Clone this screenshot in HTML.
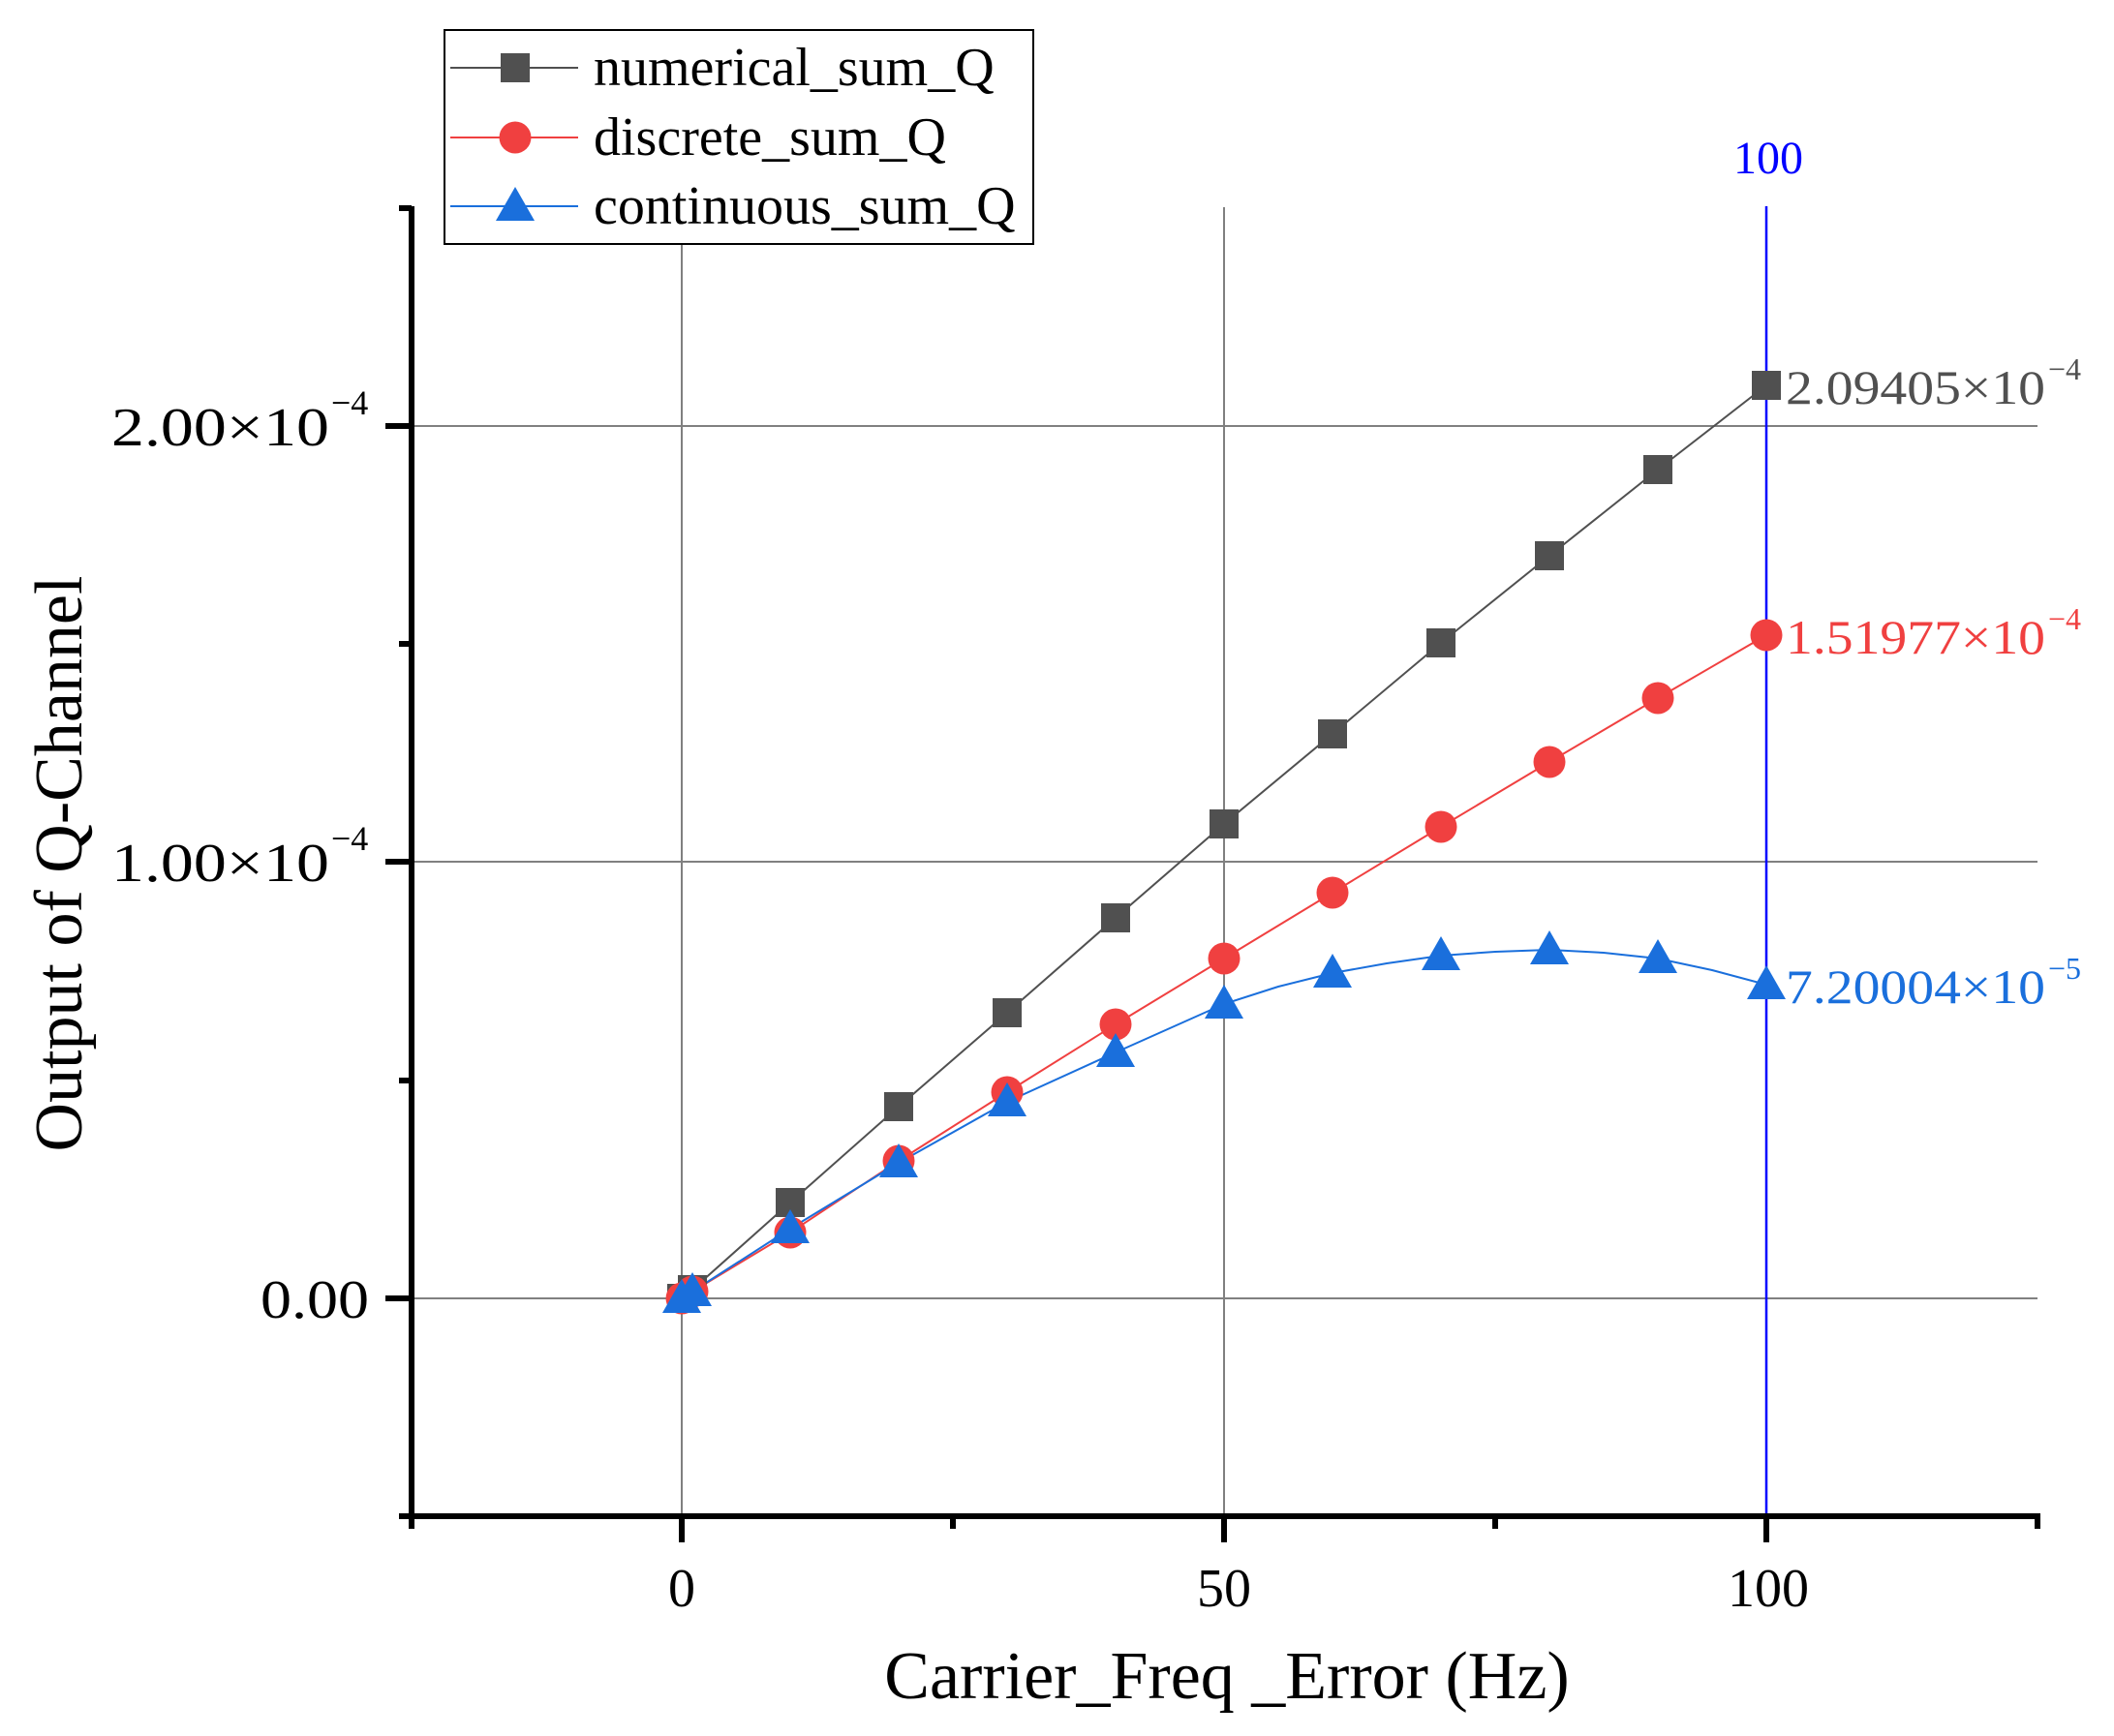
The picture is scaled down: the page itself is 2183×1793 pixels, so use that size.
<!DOCTYPE html>
<html><head><meta charset="utf-8"><style>
html,body{margin:0;padding:0;background:#fff}
svg{display:block}
text{font-family:"Liberation Serif","Noto Serif CJK SC",serif}
</style></head><body>
<svg width="2183" height="1793" viewBox="0 0 2183 1793" xmlns="http://www.w3.org/2000/svg">
<defs>
<g id="sq"><rect x="-15" y="-15" width="30" height="30" fill="#505050"/></g>
<g id="ci"><circle r="16.5" fill="#f04040"/></g>
<g id="tr"><polygon points="-20,15 20,15 0,-20" fill="#1a6fdc"/></g>
</defs>
<!-- grid -->
<g stroke="#808080" stroke-width="2">
<line x1="704" y1="214" x2="704" y2="1566"/>
<line x1="1264" y1="214" x2="1264" y2="1566"/>
<line x1="425" y1="1341" x2="2104" y2="1341"/>
<line x1="425" y1="890" x2="2104" y2="890"/>
<line x1="425" y1="440" x2="2104" y2="440"/>
</g>
<line x1="1824" y1="213" x2="1824" y2="1566" stroke="#0000ff" stroke-width="2.5"/>
<text x="1826" y="179" font-size="48" fill="#0000ff" text-anchor="middle">100</text>
<!-- axes -->
<g stroke="#000" stroke-width="6">
<line x1="425" y1="213" x2="425" y2="1569"/>
<line x1="422" y1="1566" x2="2107" y2="1566"/>
<line x1="398" y1="1341" x2="425" y2="1341"/>
<line x1="398" y1="890" x2="425" y2="890"/>
<line x1="398" y1="440" x2="425" y2="440"/>
<line x1="412" y1="1566" x2="425" y2="1566"/>
<line x1="412" y1="1116" x2="425" y2="1116"/>
<line x1="412" y1="665" x2="425" y2="665"/>
<line x1="412" y1="215" x2="425" y2="215"/>
<line x1="704" y1="1566" x2="704" y2="1593"/>
<line x1="1264" y1="1566" x2="1264" y2="1593"/>
<line x1="1824" y1="1566" x2="1824" y2="1593"/>
<line x1="425" y1="1566" x2="425" y2="1579"/>
<line x1="984" y1="1566" x2="984" y2="1579"/>
<line x1="1544" y1="1566" x2="1544" y2="1579"/>
<line x1="2104" y1="1566" x2="2104" y2="1579"/>
</g>
<!-- tick labels -->
<g font-size="56" fill="#000">
<text x="704" y="1659" text-anchor="middle">0</text>
<text x="1264" y="1659" text-anchor="middle">50</text>
<text x="1826" y="1659" text-anchor="middle">100</text>
<text x="269" y="1361" textLength="112" lengthAdjust="spacingAndGlyphs">0.00</text>
<text x="115" y="910" textLength="225" lengthAdjust="spacingAndGlyphs">1.00×10</text>
<text x="342" y="878" font-size="36">−4</text>
<text x="115" y="460" textLength="225" lengthAdjust="spacingAndGlyphs">2.00×10</text>
<text x="342" y="428" font-size="36">−4</text>
</g>
<!-- titles -->
<text x="1267" y="1754" font-size="70" text-anchor="middle">Carrier_Freq _Error (Hz)</text>
<text transform="translate(84,892) rotate(-90)" font-size="70" text-anchor="middle">Output of Q-Channel</text>
<!-- series -->
<polyline fill="none" stroke="#505050" stroke-width="2" points="704,1341 715,1332 816,1242 928,1143 1040,1046 1152,948 1264,851 1376,758 1488,664 1600,574 1712,485 1824,398"/>
<polyline fill="none" stroke="#f04040" stroke-width="2" points="704,1341 715,1334 816,1273 928,1199 1040,1128 1152,1058 1264,990 1376,922 1488,854 1600,787 1712,721 1824,656"/>
<polyline fill="none" stroke="#1a6fdc" stroke-width="2" points="704,1341 715,1334 816,1269 928,1201 1040,1138 1152,1087 1264,1037 1320,1019 1376,1005 1432,995 1488,987 1544,983 1600,981 1656,984 1712,990 1768,1002 1824,1017"/>
<g>
<use href="#sq" x="704" y="1341"/><use href="#sq" x="715" y="1332"/><use href="#sq" x="816" y="1242"/><use href="#sq" x="928" y="1143"/><use href="#sq" x="1040" y="1046"/><use href="#sq" x="1152" y="948"/><use href="#sq" x="1264" y="851"/><use href="#sq" x="1376" y="758"/><use href="#sq" x="1488" y="664"/><use href="#sq" x="1600" y="574"/><use href="#sq" x="1712" y="485"/><use href="#sq" x="1824" y="398"/>
<use href="#ci" x="704" y="1341"/><use href="#ci" x="715" y="1334"/><use href="#ci" x="816" y="1273"/><use href="#ci" x="928" y="1199"/><use href="#ci" x="1040" y="1128"/><use href="#ci" x="1152" y="1058"/><use href="#ci" x="1264" y="990"/><use href="#ci" x="1376" y="922"/><use href="#ci" x="1488" y="854"/><use href="#ci" x="1600" y="787"/><use href="#ci" x="1712" y="721"/><use href="#ci" x="1824" y="656"/>
<use href="#tr" x="704" y="1341"/><use href="#tr" x="715" y="1334"/><use href="#tr" x="816" y="1269"/><use href="#tr" x="928" y="1201"/><use href="#tr" x="1040" y="1138"/><use href="#tr" x="1152" y="1087"/><use href="#tr" x="1264" y="1037"/><use href="#tr" x="1376" y="1005"/><use href="#tr" x="1488" y="987"/><use href="#tr" x="1600" y="981"/><use href="#tr" x="1712" y="990"/><use href="#tr" x="1824" y="1017"/>
</g>
<!-- annotations -->
<g font-size="50">
<text x="1844" y="417" fill="#505050" textLength="268" lengthAdjust="spacingAndGlyphs">2.09405×10</text>
<text x="2115" y="392" font-size="32" fill="#505050">−4</text>
<text x="1844" y="675" fill="#f04040" textLength="268" lengthAdjust="spacingAndGlyphs">1.51977×10</text>
<text x="2115" y="650" font-size="32" fill="#f04040">−4</text>
<text x="1844" y="1036" fill="#1a6fdc" textLength="268" lengthAdjust="spacingAndGlyphs">7.20004×10</text>
<text x="2115" y="1011" font-size="32" fill="#1a6fdc">−5</text>
</g>
<!-- legend -->
<rect x="459" y="31" width="608" height="221" fill="#fff" stroke="#000" stroke-width="2"/>
<line x1="465" y1="70" x2="597" y2="70" stroke="#505050" stroke-width="2"/>
<use href="#sq" x="532" y="70"/>
<line x1="465" y1="142" x2="597" y2="142" stroke="#f04040" stroke-width="2"/>
<use href="#ci" x="532" y="142"/>
<line x1="465" y1="213" x2="597" y2="213" stroke="#1a6fdc" stroke-width="2"/>
<use href="#tr" x="532" y="213"/>
<g font-size="56">
<text x="613" y="88">numerical_sum_Q</text>
<text x="613" y="160">discrete_sum_Q</text>
<text x="613" y="231">continuous_sum_Q</text>
</g>
</svg>
</body></html>
